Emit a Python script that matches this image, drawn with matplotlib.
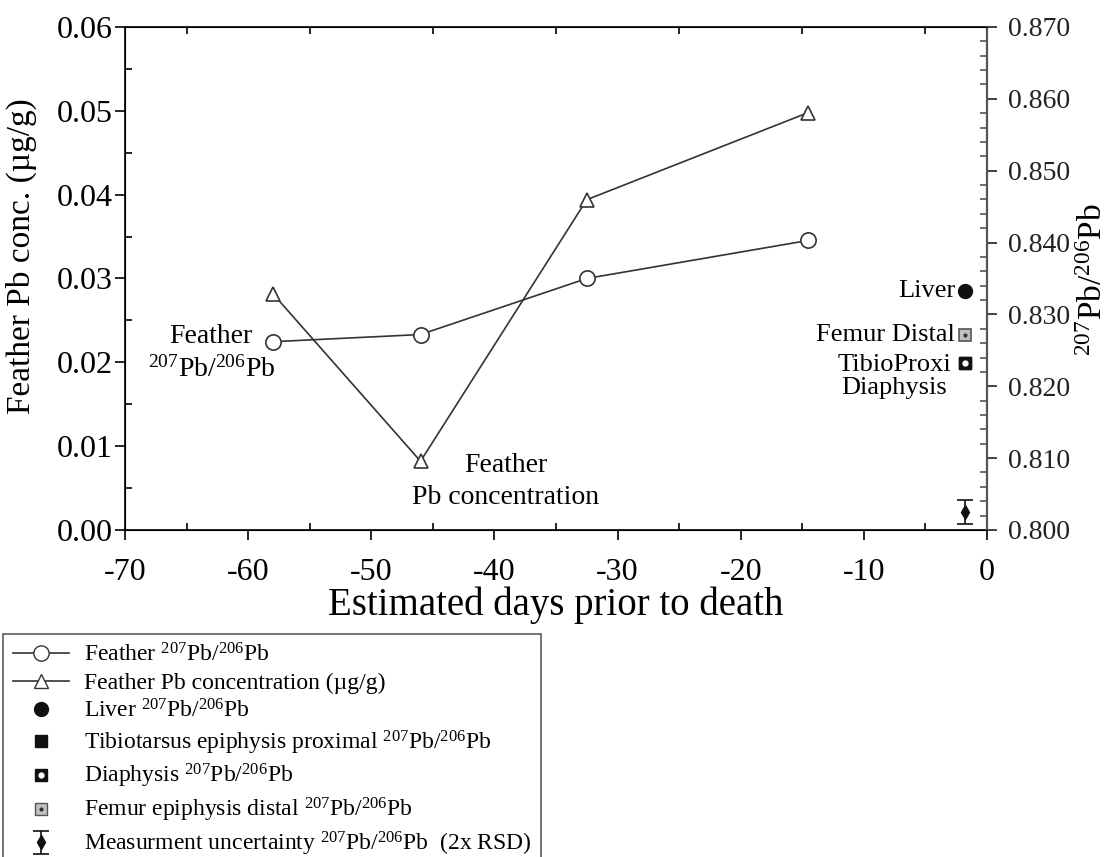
import numpy as np
import matplotlib
matplotlib.use('Agg')
import matplotlib.pyplot as plt
from matplotlib.lines import Line2D
from matplotlib.ticker import MultipleLocator, FormatStrFormatter

plt.rcParams['font.family'] = ['Liberation Serif', 'DejaVu Serif']
plt.rcParams['mathtext.fontset'] = 'custom'
plt.rcParams['mathtext.rm'] = 'Liberation Serif'
plt.rcParams['mathtext.it'] = 'Liberation Serif:italic'
plt.rcParams['axes.unicode_minus'] = False

# feather segments (days before death)
days = [-58, -46, -32.5, -14.5]
feather_ratio = [0.8262, 0.8272, 0.8350, 0.8403]
feather_conc = [0.0282, 0.0082, 0.0394, 0.0498]

# tissues, plotted near day 0
tissue_day = [-1.8]
liver_ratio = [0.8333]
tibio_ratio = [0.8232]
diaphysis_ratio = [0.8232]
femur_ratio = [0.8271]

# measurement uncertainty (2x RSD)
unc_day = [-1.8]
unc_ratio = [0.8025]
unc_err = [0.0017]

ratio_lbl = r'$^{207}$Pb/$^{206}$Pb'
line_col = '#333333'

fig = plt.figure(figsize=(11.12, 8.57), dpi=100)
ax = fig.add_axes([0.1124, 0.3816, 0.7752, 0.5869])
ax2 = ax.twinx()

# feather Pb concentration (left axis)
ax.plot(days, feather_conc, '-', color=line_col, lw=1.2, marker='^', ms=10,
        mfc='white', mec=line_col, mew=1.2, zorder=3)

# feather isotope ratio (right axis)
ax2.plot(days, feather_ratio, '-', color=line_col, lw=1.2, marker='o', ms=11,
         mfc='white', mec=line_col, mew=1.2, zorder=3)
ax2.plot(tissue_day, liver_ratio, 'o', color='#111111', ms=10)
ax2.plot(tissue_day, tibio_ratio, 's', color='#111111', ms=9)
ax2.plot(tissue_day, diaphysis_ratio, 's', color='#111111', ms=9)
ax2.plot(tissue_day, diaphysis_ratio, 'o', color='white', ms=3.5)
ax2.plot(tissue_day, femur_ratio, 's', mfc='#c0c0c0', mec='#555555', mew=1.2, ms=9)
ax2.plot(tissue_day, femur_ratio, 'o', color='#333333', ms=2)
unc = ax2.errorbar(unc_day, unc_ratio, yerr=unc_err, fmt='d', color='#111111',
                   ms=7, capsize=6, elinewidth=1.2, capthick=1.2)

# axes ranges and ticks
ax.set_xlim(-70, 0)
ax.set_ylim(0, 0.06)
ax2.set_ylim(0.8, 0.87)
ax.xaxis.set_major_locator(MultipleLocator(10))
ax.xaxis.set_minor_locator(MultipleLocator(5))
ax.yaxis.set_major_locator(MultipleLocator(0.01))
ax.yaxis.set_minor_locator(MultipleLocator(0.005))
ax.yaxis.set_major_formatter(FormatStrFormatter('%.2f'))
ax2.yaxis.set_major_locator(MultipleLocator(0.01))
ax2.yaxis.set_minor_locator(MultipleLocator(0.002))
ax2.yaxis.set_major_formatter(FormatStrFormatter('%.3f'))

ax.tick_params(axis='x', which='major', direction='out', length=7, width=1.2,
               labelsize=23, top=False, pad=13)
ax.tick_params(axis='x', which='minor', direction='in', length=5, width=1.2,
               top=True, bottom=True)
ax.tick_params(axis='y', which='major', direction='out', length=7, width=1.2,
               labelsize=23, right=False, pad=2)
ax.tick_params(axis='y', which='minor', direction='in', length=5, width=1.2,
               right=False)
ax2.tick_params(axis='y', which='major', direction='out', length=7, width=1.2,
                labelsize=20, colors='#222222', pad=8)
ax2.tick_params(axis='y', which='minor', direction='in', length=5, width=1.2,
                color='#555555')

for s in ax.spines.values():
    s.set_linewidth(1.2)
ax2.spines['right'].set_color('#555555')
ax2.spines['right'].set_linewidth(1.6)

ax.set_xlabel('Estimated days prior to death', fontsize=28, labelpad=0)
ax.set_ylabel('Feather Pb conc. (\u00b5g/g)', fontsize=24)
ax.yaxis.set_label_coords(-0.102, 0.545)
ax2.set_ylabel(ratio_lbl, fontsize=24, rotation=90)
ax2.yaxis.set_label_coords(1.1056, 0.497)

# labels inside the plot
ax.text(-63.0, 0.0211, 'Feather\n' + ratio_lbl, fontsize=20, ha='center',
        va='center', multialignment='center', linespacing=1.35)
ax.text(-39.1, 0.0058, 'Feather\nPb concentration', fontsize=20, ha='center',
        va='center', multialignment='center', linespacing=1.35)
ax2.text(-2.6, liver_ratio[0], 'Liver', fontsize=19, ha='right', va='center')
ax2.text(-2.6, femur_ratio[0], 'Femur Distal', fontsize=19, ha='right', va='center')
ax2.text(-2.9, 0.8214, 'TibioProxi\nDiaphysis', fontsize=19,
         ha='right', va='center', multialignment='center', linespacing=1.05)

# legend below the plot
h_ratio = Line2D([], [], color=line_col, lw=1.2, marker='o', ms=11,
                 mfc='white', mec=line_col)
h_conc = Line2D([], [], color=line_col, lw=1.2, marker='^', ms=10,
                mfc='white', mec=line_col)
h_liver = Line2D([], [], ls='none', marker='o', color='#111111', ms=10)
h_tibio = Line2D([], [], ls='none', marker='s', color='#111111', ms=9)
h_dia = (Line2D([], [], ls='none', marker='s', color='#111111', ms=9),
         Line2D([], [], ls='none', marker='o', color='white', ms=3.5))
h_fem = (Line2D([], [], ls='none', marker='s', mfc='#c0c0c0', mec='#555555', ms=9),
         Line2D([], [], ls='none', marker='o', color='#333333', ms=2))
handles = [h_ratio, h_conc, h_liver, h_tibio, h_dia, h_fem, unc]
labels = ['Feather ' + ratio_lbl,
          'Feather Pb concentration (\u00b5g/g)',
          'Liver ' + ratio_lbl,
          'Tibiotarsus epiphysis proximal ' + ratio_lbl,
          'Diaphysis ' + ratio_lbl,
          'Femur epiphysis distal ' + ratio_lbl,
          'Measurment uncertainty ' + ratio_lbl + '  (2x RSD)']
leg = fig.legend(handles, labels, loc='upper left',
                 bbox_to_anchor=(0.003, 1 - 634 / 857), fontsize=17,
                 frameon=True, fancybox=False, edgecolor='#333333',
                 handlelength=2.4, handletextpad=0.6, labelspacing=0.24,
                 borderpad=0.4, borderaxespad=0)
leg.get_frame().set_linewidth(1.2)

fig.savefig('out.png', dpi=100)
